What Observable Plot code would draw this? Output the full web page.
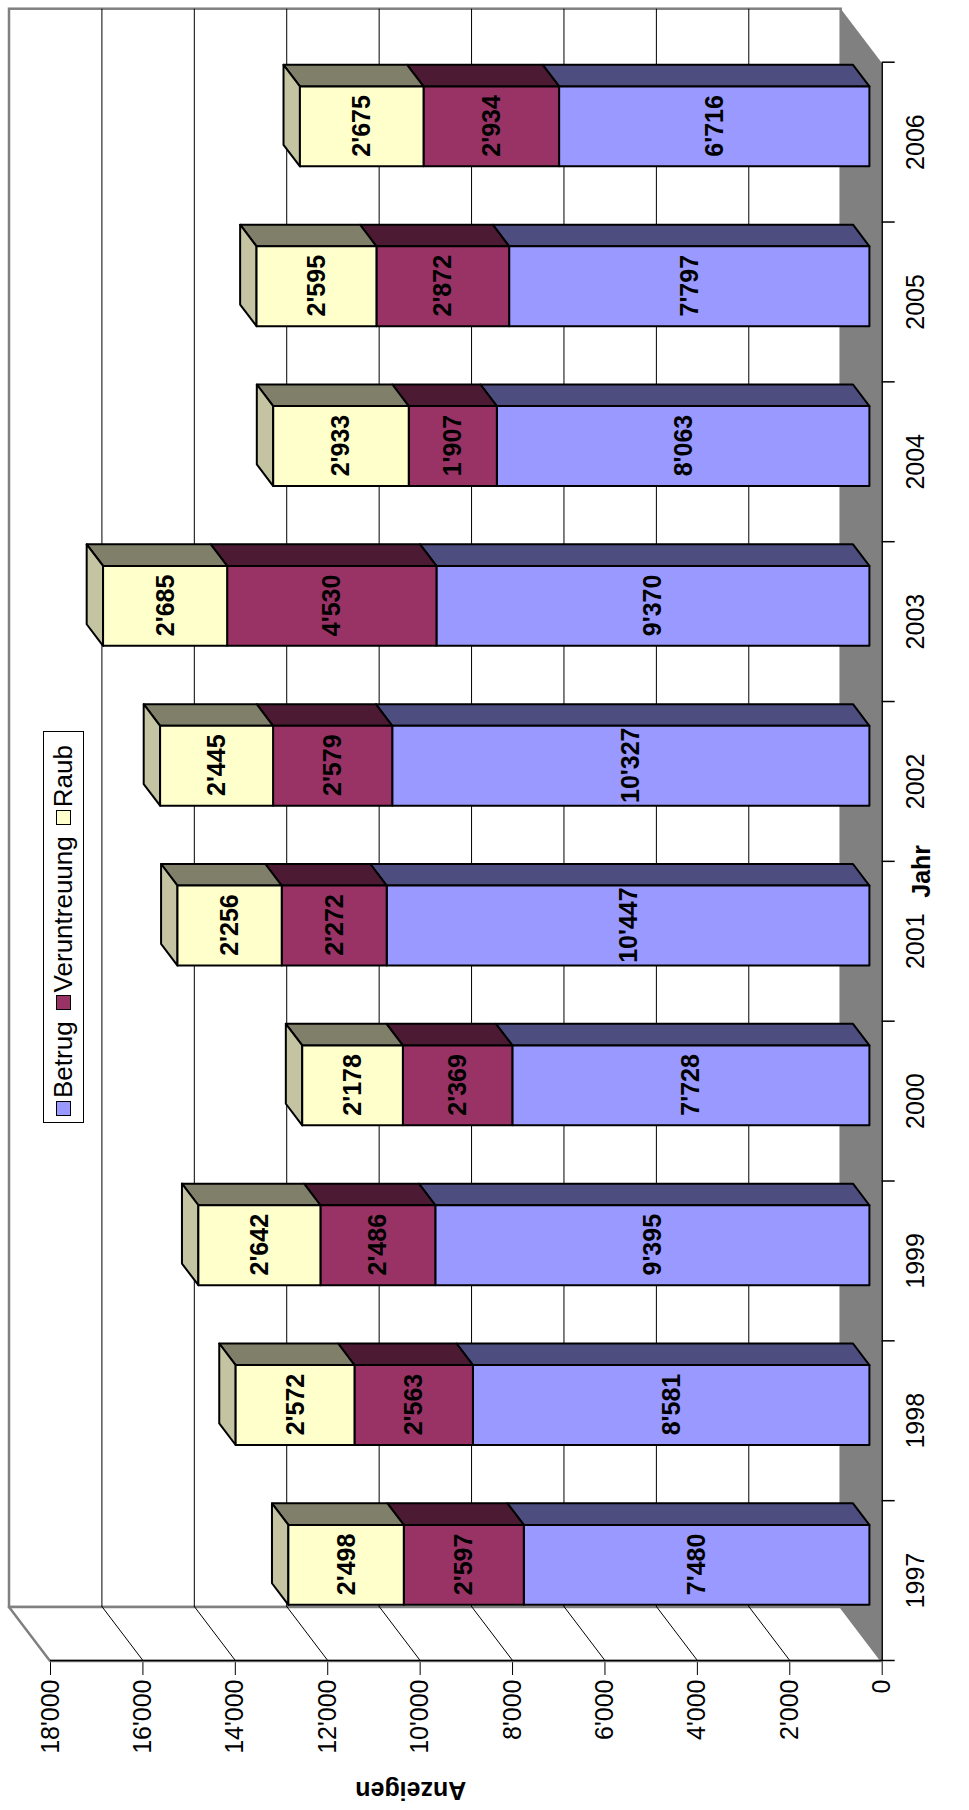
<!DOCTYPE html>
<html><head><meta charset="utf-8">
<script src="https://cdn.jsdelivr.net/npm/d3@7"></script>
<script src="https://cdn.jsdelivr.net/npm/@observablehq/plot@0.6"></script>
<style>
html,body{margin:0;padding:0;background:#fff;overflow:hidden;}
#page{position:relative;width:969px;height:1810px;overflow:hidden;background:#fff;}
#rot{position:absolute;left:0;top:0;width:1810px;height:969px;transform-origin:0 0;transform:translate(0px,1810px) rotate(-90deg);}
#rot svg{position:absolute;left:0;top:0;}
#legend{position:absolute;left:687px;top:43px;width:392px;height:41px;box-sizing:border-box;border:1px solid #000;background:#fff;display:flex;align-items:center;padding-left:6px;font:26px "Liberation Sans",Arial,sans-serif;color:#000;}
.item{display:flex;align-items:center;margin-right:11px;white-space:nowrap;}
.sw{width:15px;height:15px;border:1px solid #000;margin-right:3px;box-sizing:border-box;}
</style></head><body>
<div id="page"><div id="rot"><div id="legend"></div></div></div>
<script>
// ---- data ----
const years = ["1997","1998","1999","2000","2001","2002","2003","2004","2005","2006"];
const series = ["Betrug","Veruntreuung","Raub"];
const betrug = [7480, 8581, 9395, 7728, 10447, 10327, 9370, 8063, 7797, 6716];
const veruntreuung = [2597, 2563, 2486, 2369, 2272, 2579, 4530, 1907, 2872, 2934];
const raub = [2498, 2572, 2642, 2178, 2256, 2445, 2685, 2933, 2595, 2675];
const valueTicks = [0, 2000, 4000, 6000, 8000, 10000, 12000, 14000, 16000, 18000];
const gridValues = [2000, 4000, 6000, 8000, 10000, 12000, 14000, 16000];

// ---- styles ----
const frontColors = ["#9999FF", "#993366", "#FFFFCC"];
const sideColors = ["#4D4D80", "#4D1A33", "#80806A"];
const topColors = ["#C4C4FF", "#C46699", "#C4C4A2"];
const FONT = "'Liberation Sans', Arial, sans-serif";

// ---- layout ----
const W = 1810, H = 969, ML = 149, MR = 62.7, MT = 50, MB = 87.3;
const YMAX = 18000, N = years.length;
const PXX = (W - ML - MR) / N;
const PXY = (H - MT - MB) / YMAX;
const DXU = 54 / PXX;   // depth vector in data units
const DYU = 41 / PXY;
const D0 = 0.3, D1 = 0.7, HW = 0.25;

const fmt = v => d3.format(",")(v).replace(/,/g, "'");
const values = [betrug, veruntreuung, raub];

const segs = [];
years.forEach((yr, i) => {
  let base = 0;
  values.forEach((arr, s) => {
    const v = arr[i];
    segs.push({i, s, base, top: base + v, v, id: i + "-" + s});
    base += v;
  });
});
const fx1 = d => d.i + 0.5 - HW + D0 * DXU;
const fx2 = d => d.i + 0.5 + HW + D0 * DXU;
const sidePts = segs.flatMap(d => [
  {s: d.s, id: d.id, x: fx2(d), y1: d.base + D0 * DYU, y2: d.top + D0 * DYU},
  {s: d.s, id: d.id, x: fx2(d) + (D1 - D0) * DXU, y1: d.base + D1 * DYU, y2: d.top + D1 * DYU}
]);
const topPts = segs.filter(d => d.s === series.length - 1).flatMap(d => [
  {s: d.s, id: d.id, y: d.top + D0 * DYU, x1: fx1(d), x2: fx2(d)},
  {s: d.s, id: d.id, y: d.top + D1 * DYU, x1: fx1(d) + (D1 - D0) * DXU, x2: fx2(d) + (D1 - D0) * DXU}
]);

const marks = [
  // back wall
  Plot.rect([0], {x1: () => DXU, x2: () => N + DXU, y1: () => DYU, y2: () => YMAX + DYU,
    fill: "white", stroke: "#808080", strokeWidth: 2.5}),
  // side wall
  Plot.areaY([{x: 0, y1: 0, y2: YMAX}, {x: DXU, y1: DYU, y2: YMAX + DYU}],
    {x: "x", y1: "y1", y2: "y2", fill: "white", stroke: "#808080", strokeWidth: 2.5}),
  // gridlines
  Plot.ruleY(gridValues, {y: v => v + DYU, x1: () => DXU, x2: () => N + DXU, stroke: "#000", strokeWidth: 1}),
  Plot.link(gridValues, {x1: () => 0, y1: v => v, x2: () => DXU, y2: v => v + DYU, stroke: "#000", strokeWidth: 1}),
  // floor
  Plot.areaX([{y: 0, x1: 0, x2: N}, {y: DYU, x1: DXU, x2: N + DXU}],
    {y: "y", x1: "x1", x2: "x2", fill: "#808080"}),
  // axis lines and category ticks
  Plot.ruleX([0], {y1: () => 0, y2: () => YMAX, stroke: "#000", strokeWidth: 1.5}),
  Plot.ruleY([0], {x1: () => 0, x2: () => N, stroke: "#000", strokeWidth: 1.5}),
  Plot.ruleX(d3.range(0, N + 1), {x: d => d, y1: () => 0, y2: () => -13 / PXY, stroke: "#000", strokeWidth: 1.5})
];
series.forEach((name, s) => {
  marks.push(Plot.areaY(sidePts.filter(d => d.s === s), {x: "x", y1: "y1", y2: "y2", z: "id",
    fill: sideColors[s], stroke: "#000", strokeWidth: 2, strokeLinejoin: "round"}));
});
marks.push(Plot.areaX(topPts, {y: "y", x1: "x1", x2: "x2", z: "id",
  fill: topColors[2], stroke: "#000", strokeWidth: 2, strokeLinejoin: "round"}));
series.forEach((name, s) => {
  marks.push(Plot.rect(segs.filter(d => d.s === s), {x1: fx1, x2: fx2,
    y1: d => d.base + D0 * DYU, y2: d => d.top + D0 * DYU,
    fill: frontColors[s], stroke: "#000", strokeWidth: 2, strokeLinejoin: "round"}));
});
marks.push(Plot.text(segs, {x: d => d.i + 0.5 + D0 * DXU, y: d => (d.base + d.top) / 2 + D0 * DYU,
  text: d => fmt(d.v), fontSize: 25, fontWeight: "bold", fill: "#000"}));
marks.push(Plot.text(["Anzeigen"], {frameAnchor: "left", dx: -129, rotate: -90, fontSize: 25, fontWeight: "bold", fill: "#000"}));
marks.push(Plot.text(["Jahr"], {frameAnchor: "bottom", dx: -10, dy: 48, fontSize: 25, fontWeight: "bold", fill: "#000"}));

const chart = Plot.plot({
  width: W, height: H,
  marginLeft: ML, marginRight: MR, marginTop: MT, marginBottom: MB,
  style: {fontFamily: FONT, fontSize: "25px", background: "white", color: "#000", overflow: "visible"},
  x: {domain: [0, N], ticks: d3.range(N).map(i => i + 0.5), tickFormat: d => years[Math.floor(d)],
      tickSize: 0, tickPadding: 24, label: null},
  y: {domain: [0, YMAX], ticks: valueTicks, tickFormat: fmt, tickSize: 14, tickPadding: 5, label: null},
  marks
});
const rot = document.getElementById("rot");
rot.insertBefore(chart, rot.firstChild);

// legend
const legend = document.getElementById("legend");
series.forEach((name, s) => {
  const item = document.createElement("div");
  item.className = "item";
  const sw = document.createElement("div");
  sw.className = "sw";
  sw.style.background = frontColors[s];
  const t = document.createElement("span");
  t.textContent = name;
  item.appendChild(sw); item.appendChild(t);
  legend.appendChild(item);
});
</script>
</body></html>
